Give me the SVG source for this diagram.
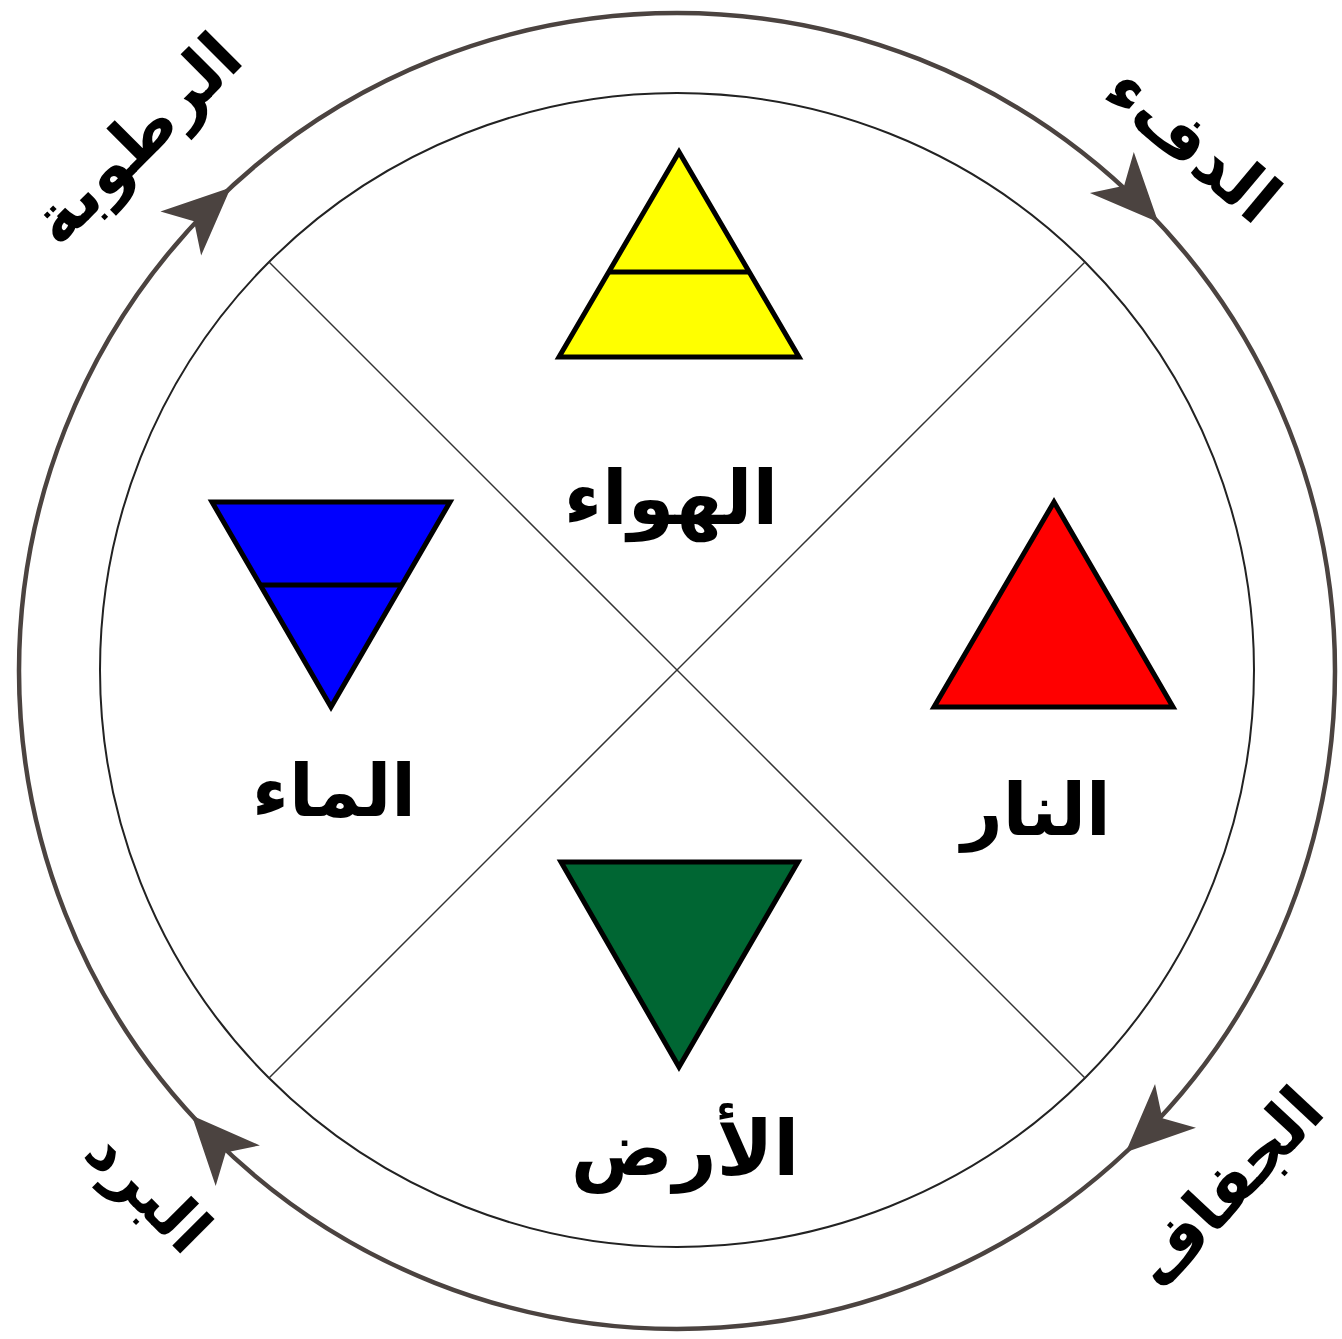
<svg xmlns="http://www.w3.org/2000/svg" xmlns:xlink="http://www.w3.org/1999/xlink" width="1342" height="1339" viewBox="0 0 1342 1339">
<style>
.lbl{font-family:"DejaVu Sans","Noto Sans",sans-serif;font-weight:bold;fill:#000;text-anchor:middle;direction:rtl}
.tri{stroke:#000;stroke-width:5;stroke-linejoin:miter}
.cycle{fill:none;stroke:#4b4340;stroke-width:4.5}
.inner{fill:none;stroke:#222;stroke-width:2}
.div{stroke:#333;stroke-width:1.5}
</style>
<defs>
<path id="ah" d="M0,0 L-68,-30 L-50,0 L-68,30 Z" fill="#4b4340"/>
</defs>
<rect width="1342" height="1339" fill="#fff"/>
<g id="connectors">
<circle class="cycle" cx="677" cy="671" r="658"/>
<g transform="translate(677 671) rotate(-43) translate(658 0) rotate(90)"><use xlink:href="#ah" href="#ah"/></g>
<g transform="translate(677 671) rotate(47) translate(658 0) rotate(90)"><use xlink:href="#ah" href="#ah"/></g>
<g transform="translate(677 671) rotate(137.5) translate(658 0) rotate(90)"><use xlink:href="#ah" href="#ah"/></g>
<g transform="translate(677 671) rotate(-132.7) translate(658 0) rotate(90)"><use xlink:href="#ah" href="#ah"/></g>
<circle class="inner" cx="677" cy="670" r="577"/>
<line class="div" x1="269" y1="262" x2="1085" y2="1078"/>
<line class="div" x1="1085" y1="262" x2="269" y2="1078"/>
</g>
<g id="air">
<polygon class="tri" points="679,152 559,357 799,357" fill="#ffff00"/>
<line x1="608" y1="272" x2="750" y2="272" stroke="#000" stroke-width="5"/>
<text class="lbl" x="671" y="524" font-size="75">الهواء</text>
</g>
<g id="fire">
<polygon class="tri" points="1054,502 934,707 1173,707" fill="#ff0000"/>
<text class="lbl" x="1036" y="835" font-size="72">النار</text>
</g>
<g id="water">
<polygon class="tri" points="212,502 450,502 331,707" fill="#0000ff"/>
<line x1="261" y1="585" x2="401" y2="585" stroke="#000" stroke-width="5"/>
<text class="lbl" x="334" y="816" font-size="72">الماء</text>
</g>
<g id="earth">
<polygon class="tri" points="561,862 798,862 679,1067" fill="#006633"/>
<text class="lbl" x="685" y="1175" font-size="76">الأرض</text>
</g>
<g id="humidity">
<text class="lbl" transform="translate(137 140) rotate(-45)" x="0" y="22" font-size="68">الرطوبة</text>
</g>
<g id="warmth">
<text class="lbl" transform="translate(1192 145) rotate(40)" x="0" y="22" font-size="68">الدفء</text>
</g>
<g id="dryness">
<text class="lbl" transform="translate(1228 1188) rotate(-47)" x="0" y="22" font-size="66">الجفاف</text>
</g>
<g id="cold">
<text class="lbl" transform="translate(147 1192) rotate(45)" x="0" y="20" font-size="64">البرد</text>
</g>
</svg>
